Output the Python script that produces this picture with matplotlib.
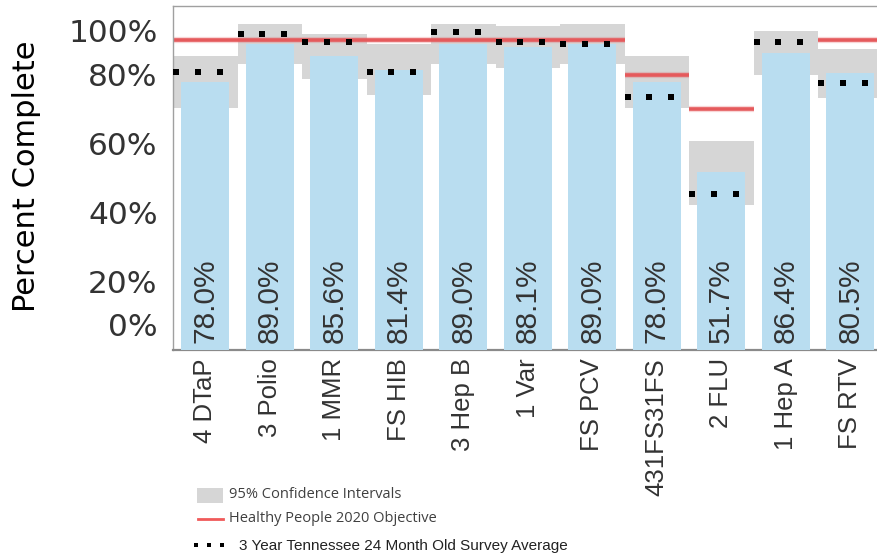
import matplotlib
matplotlib.use("Agg")
import matplotlib.pyplot as plt
import numpy as np
from matplotlib.patches import Rectangle
from matplotlib.lines import Line2D

# ---------------- data ----------------
categories = ["4 DTaP", "3 Polio", "1 MMR", "FS HIB", "3 Hep B", "1 Var",
              "FS PCV", "431FS31FS", "2 FLU", "1 Hep A", "FS RTV"]
percent = [78.0, 89.0, 85.6, 81.4, 89.0, 88.1, 89.0, 78.0, 51.7, 86.4, 80.5]
ci_low = [70.4, 83.1, 78.9, 74.1, 83.1, 82.1, 83.1, 70.3, 42.2, 80.0, 73.2]
ci_high = [85.5, 94.7, 91.8, 88.9, 94.7, 94.2, 94.7, 85.5, 60.7, 92.8, 87.4]
objective = [90, 90, 90, 90, 90, 90, 90, 80, 70, np.nan, 90]
survey_avg = [80.9, 91.8, 89.4, 80.9, 92.3, 89.4, 88.9, 73.6, 45.4, 89.4, 77.5]
ytick_vals = [0, 20, 40, 60, 80, 100]
ytick_labels = ["0%", "20%", "40%", "60%", "80%", "100%"]

# ---------------- figure ----------------
W, H = 878, 559
fig = plt.figure(figsize=(W / 100, H / 100), dpi=100)
ax = fig.add_axes([173 / W, 1 - 350 / H, (878 - 173) / W, 344 / H])

x = np.arange(len(categories))
bar_color = "#B9DDF0"
ci_color = "#D6D6D6"
red = "#E55A5C"

# CI boxes (full slot width)
ax.bar(x, np.array(ci_high) - np.array(ci_low), bottom=ci_low, width=1.0,
       color=ci_color, zorder=1, linewidth=0)
# objective lines
for xi, ob in zip(x, objective):
    if not np.isnan(ob):
        ax.hlines(ob, xi - 0.5, xi + 0.5, color=red, linewidth=2.6, zorder=2)
        ax.hlines(ob, xi - 0.5, xi + 0.5, color=red, linewidth=4.5, alpha=0.25, zorder=2)
# bars
ax.bar(x, percent, width=0.745, color=bar_color, zorder=3, linewidth=0)
# survey average dots
dot_offsets = np.array([-0.45, -0.115, 0.225])
for xi, sv in zip(x, survey_avg):
    ax.plot(xi + dot_offsets, [sv] * 3, linestyle="none", marker="s",
            markersize=4.8, color="black", markeredgewidth=0, zorder=4)
# bar value labels
for xi, v in zip(x, percent):
    ax.text(xi, 2.0, f"{v:.1f}%", rotation=90, ha="center", va="bottom",
            fontsize=21.5, family="Liberation Sans",
            color="#333333", zorder=5)

ax.set_xlim(-0.5, 10.43)
ax.set_ylim(0, 100)
ax.set_xticks(x)
ax.set_xticklabels(categories, rotation=90, va="top", ha="center",
                   fontsize=18.5, family="Liberation Sans", color="#333333")
ax.tick_params(axis="x", length=0, pad=6)

# y ticks: inner ones as normal ticks, end ones shifted inward as in the reference
ax.set_yticks(ytick_vals[1:-1])
ax.set_yticklabels(ytick_labels[1:-1], fontsize=22.5, color="#333333")
ax.tick_params(axis="y", length=0, pad=11)
ax.annotate(ytick_labels[-1], xy=(0, ytick_vals[-1]), xycoords=("axes fraction", "data"),
            xytext=(-11, -19.5), textcoords="offset points", ha="right", va="center",
            fontsize=22.5, color="#333333")
ax.annotate(ytick_labels[0], xy=(0, ytick_vals[0]), xycoords=("axes fraction", "data"),
            xytext=(-11, 16), textcoords="offset points", ha="right", va="center",
            fontsize=22.5, color="#333333")

for side in ["top", "left"]:
    ax.spines[side].set_color("#A0A0A0")
    ax.spines[side].set_linewidth(1.0)
ax.spines["bottom"].set_color("#8A8A8A")
ax.spines["bottom"].set_linewidth(1.6)
ax.spines["right"].set_visible(False)

fig.text(27 / W, 1 - 176 / H, "Percent Complete", rotation=90, ha="center", va="center",
         fontsize=22, color="black")

# ---------------- custom legend ----------------
def fx(px):
    return px / W

def fy(py):
    return 1 - py / H

fig.add_artist(Rectangle((fx(197), fy(503)), 26 / W, 15 / H, transform=fig.transFigure,
                         facecolor=ci_color, edgecolor="none"))
fig.add_artist(Line2D([fx(198), fx(223)], [fy(519), fy(519)], transform=fig.transFigure,
                      color="#F05A5A", linewidth=2.0))
fig.add_artist(Line2D([fx(196), fx(209), fx(222)], [fy(545)] * 3, transform=fig.transFigure,
                      linestyle="none", marker="s", markersize=3.0, color="black",
                      markeredgewidth=0))
leg_font = ["Open Sans", "DejaVu Sans"]
fig.text(fx(229), fy(495), "95% Confidence Intervals", ha="left", va="center",
         fontsize=10.5, family=leg_font, color="#404040")
fig.text(fx(229), fy(519), "Healthy People 2020 Objective", ha="left", va="center",
         fontsize=10.5, family=leg_font, color="#404040")
fig.text(fx(239), fy(546), "3 Year Tennessee 24 Month Old Survey Average", ha="left",
         va="center", fontsize=11, family="Liberation Sans", color="#222222")

fig.savefig("out.png", dpi=100)
